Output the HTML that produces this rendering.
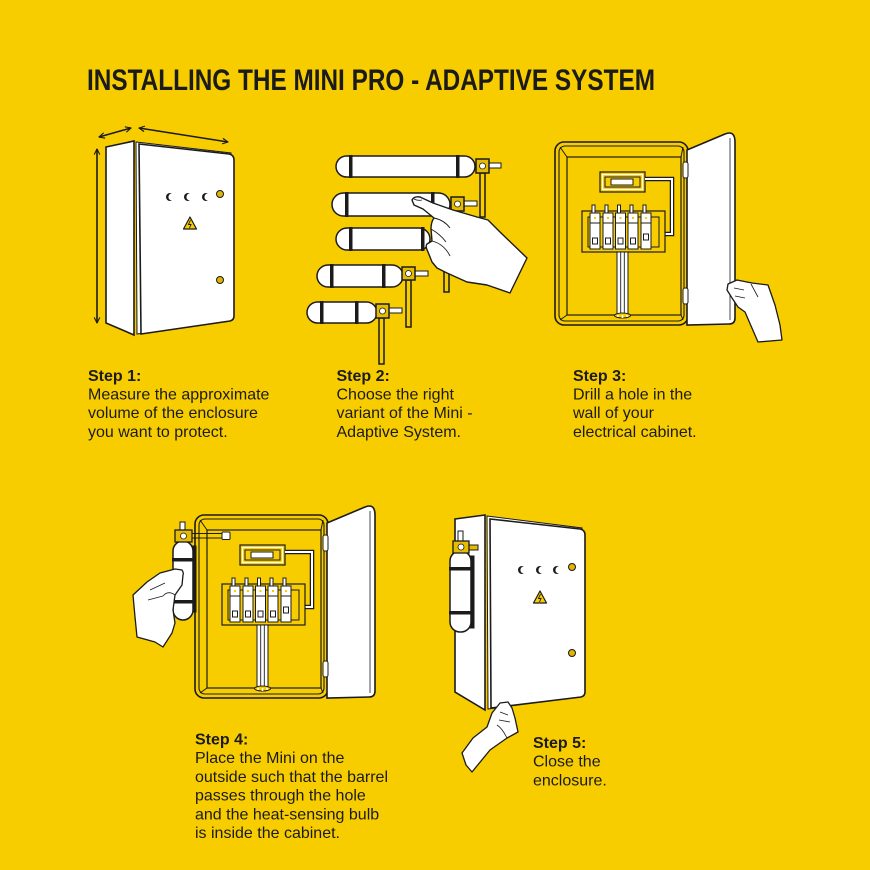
<!DOCTYPE html>
<html><head><meta charset="utf-8"><style>
html,body{margin:0;padding:0;background:#F8CD00;}
svg{display:block;}
text{font-family:"Liberation Sans",Arial,sans-serif;fill:#1b1b1b;}
</style></head><body>
<svg width="870" height="870" viewBox="0 0 870 870" xmlns="http://www.w3.org/2000/svg">
<defs>
<g id="cab">
  <rect x="0" y="0" width="133" height="183" rx="9" fill="#F8CD00" stroke="#1b1b1b" stroke-width="1.6"/>
  <rect x="4" y="4" width="125" height="175" rx="6" fill="none" stroke="#1b1b1b" stroke-width="1.1"/>
  <rect x="12" y="15" width="114" height="158" fill="none" stroke="#1b1b1b" stroke-width="1.2"/>
  <path d="M5,5 L12,15 M128,5 L126,15 M5,178 L12,173 M128,178 L126,173" stroke="#1b1b1b" stroke-width="1" fill="none"/>
  <rect x="45" y="30" width="45" height="20" fill="#F8CD00" stroke="#1b1b1b" stroke-width="1.2"/>
  <rect x="47.5" y="32.5" width="40" height="15" fill="none" stroke="#fff" stroke-width="1.2"/>
  <rect x="50" y="35" width="35" height="10" fill="none" stroke="#1b1b1b" stroke-width="1"/>
  <rect x="56" y="37" width="22" height="6" fill="#fff" stroke="#1b1b1b" stroke-width="1"/>
  <path d="M90,37 H117 V92 H110" fill="none" stroke="#1b1b1b" stroke-width="4.5"/>
  <path d="M90,37 H117 V92 H110" fill="none" stroke="#fff" stroke-width="2"/>
  <rect x="27" y="69" width="83" height="41" fill="#F8CD00" stroke="#1b1b1b" stroke-width="1.2"/>
  <rect x="33" y="75" width="71" height="30" fill="none" stroke="#1b1b1b" stroke-width="1"/>
  <g stroke="#1b1b1b" stroke-width="1">
    <rect x="37" y="63" width="3" height="8" fill="#fff"/><rect x="50" y="63" width="3" height="8" fill="#fff"/><rect x="62.5" y="63" width="3" height="8" fill="#fff"/><rect x="75" y="63" width="3" height="8" fill="#fff"/><rect x="88" y="63" width="3" height="8" fill="#fff"/>
    <rect x="35" y="71" width="10" height="36" fill="#fff"/><rect x="48" y="71" width="10" height="36" fill="#fff"/><rect x="60.5" y="71" width="10" height="36" fill="#fff"/><rect x="73" y="71" width="10" height="36" fill="#fff"/><rect x="86" y="71" width="10" height="36" fill="#fff"/>
    <path d="M35,81 h10 M48,81 h10 M60.5,81 h10 M73,81 h10 M86,81 h10" fill="none"/>
    <rect x="37.5" y="96" width="5" height="6" fill="none"/><rect x="50.5" y="96" width="5" height="6" fill="none"/><rect x="63" y="96" width="5" height="6" fill="none"/><rect x="75.5" y="96" width="5" height="6" fill="none"/><rect x="88.5" y="92" width="5" height="6" fill="none"/>
  </g>
  <g fill="#F8CD00"><rect x="39" y="75" width="2" height="2"/><rect x="52" y="75" width="2" height="2"/><rect x="64.5" y="75" width="2" height="2"/><rect x="77" y="75" width="2" height="2"/><rect x="90" y="75" width="2" height="2"/></g>
  <rect x="62" y="110" width="11" height="63" fill="#fff" stroke="#1b1b1b" stroke-width="1"/>
  <path d="M65.7,110 V173 M69.3,110 V173" stroke="#1b1b1b" stroke-width="0.9"/>
  <ellipse cx="67.5" cy="173.5" rx="8" ry="2.5" fill="#F8CD00" stroke="#1b1b1b" stroke-width="1"/>
  <path d="M63,173 V175 M67.5,173 V176 M72,173 V175" stroke="#fff" stroke-width="1.5"/>
  <path d="M132,8 L170,-8 Q180,-12 180,0 L180,176 Q180,182 174,182 L132,183 Z" fill="#fff" stroke="#1b1b1b" stroke-width="1.6"/>
  <path d="M175,-4 V178" stroke="#1b1b1b" stroke-width="0.8"/>
  <rect x="128" y="20" width="5" height="16" rx="2" fill="#fff" stroke="#1b1b1b" stroke-width="1"/>
  <rect x="128" y="146" width="5" height="16" rx="2" fill="#fff" stroke="#1b1b1b" stroke-width="1"/>
</g>
<marker id="ah" viewBox="0 0 10 10" refX="9" refY="5" markerWidth="7" markerHeight="7" orient="auto-start-reverse" markerUnits="userSpaceOnUse">
  <path d="M1,1 L9,5 L1,9" fill="none" stroke="#1b1b1b" stroke-width="1.6"/>
</marker>
</defs>

<text x="87" y="90" font-size="30" font-weight="bold" textLength="568" lengthAdjust="spacingAndGlyphs">INSTALLING THE MINI PRO - ADAPTIVE SYSTEM</text>

<!-- STEP 1 -->
<g stroke="#1b1b1b" stroke-width="1.6">
  <line x1="97" y1="149" x2="97" y2="323" marker-start="url(#ah)" marker-end="url(#ah)"/>
  <line x1="99" y1="137" x2="131" y2="128" marker-start="url(#ah)" marker-end="url(#ah)"/>
  <line x1="139" y1="128" x2="228" y2="142" marker-start="url(#ah)" marker-end="url(#ah)"/>
  <polygon points="106,147 134,141 134,335 106,323" fill="#fff"/>
  <polygon points="136,142 231,153 231,320 137,334" fill="#fff" stroke-width="1"/>
  <path d="M139,144 L229,154 Q234,155 234,160 L234,316 Q234,320 230,321 L141,334 Z" fill="#fff"/>
</g>
<g fill="#1b1b1b"><circle cx="170" cy="197" r="4"/><circle cx="188" cy="197" r="4"/><circle cx="206" cy="197" r="4"/></g>
<g fill="#fff"><circle cx="172" cy="197" r="3.6"/><circle cx="190" cy="197" r="3.6"/><circle cx="208" cy="197" r="3.6"/></g>
<circle cx="220" cy="194" r="3.5" fill="#E0B400" stroke="#1b1b1b" stroke-width="1"/>
<circle cx="220" cy="280" r="3.5" fill="#E0B400" stroke="#1b1b1b" stroke-width="1"/>
<polygon points="190,217 196.5,229 183.5,229" fill="#F8CD00" stroke="#1b1b1b" stroke-width="1.2" stroke-linejoin="round"/>
<path d="M190.5,220 L188.5,224.5 L191,224.5 L189.5,228" stroke="#1b1b1b" stroke-width="0.9" fill="none"/>

<!-- STEP 2 -->
<g stroke="#1b1b1b" stroke-width="1.5">
  <rect x="480" y="173" width="5" height="44" fill="#F8CD00"/>
  <rect x="444" y="250" width="5" height="42" fill="#F8CD00"/>
  <rect x="406" y="280" width="5" height="47" fill="#F8CD00"/>
  <rect x="379" y="318" width="5" height="46" fill="#F8CD00"/>
  <rect x="336" y="156" width="139" height="21" rx="10.5" fill="#fff"/>
  <rect x="332" y="193" width="118" height="23" rx="11.5" fill="#fff"/>
  <rect x="336" y="228" width="94" height="22" rx="11" fill="#fff"/>
  <rect x="317" y="265" width="86" height="22" rx="11" fill="#fff"/>
  <rect x="307" y="302" width="70" height="21" rx="10.5" fill="#fff"/>
  <rect x="489" y="163" width="12" height="5" fill="#fff" stroke-width="1"/>
  <rect x="464" y="201" width="13" height="5" fill="#fff" stroke-width="1"/>
  <rect x="415" y="271" width="13" height="5" fill="#fff" stroke-width="1"/>
  <rect x="389" y="308" width="13" height="5" fill="#fff" stroke-width="1"/>
  <rect x="476" y="159" width="13" height="14" fill="#E7BC00"/>
  <rect x="451" y="197" width="13" height="14" fill="#E7BC00"/>
  <rect x="402" y="267" width="13" height="13" fill="#E7BC00"/>
  <rect x="376" y="304" width="13" height="14" fill="#E7BC00"/>
</g>
<g fill="#1b1b1b">
  <rect x="349" y="155" width="3.5" height="23"/><rect x="456" y="155" width="3.5" height="23"/>
  <rect x="345" y="192" width="3.5" height="25"/><rect x="431" y="192" width="3.5" height="25"/>
  <rect x="349" y="227" width="3.5" height="24"/><rect x="421" y="227" width="3.5" height="24"/>
  <rect x="330" y="264" width="3.5" height="24"/><rect x="382" y="264" width="3.5" height="24"/>
  <rect x="320" y="301" width="3.5" height="23"/><rect x="355" y="301" width="3.5" height="23"/>
</g>
<g fill="#fff" stroke="#1b1b1b" stroke-width="0.8">
  <circle cx="482.5" cy="166" r="3"/><circle cx="457.5" cy="204" r="3"/><circle cx="408.5" cy="273.5" r="3"/><circle cx="382.5" cy="311" r="3"/>
</g>
<path d="M412,200 Q414,196 420,197 L433,203 L453,210 L477,217 L488,220 L500,232 L527,258 L510,293 L487,285 L467,282 L447,273 L437,268 L432,262 L428,252 Q425,246 427,244 L432,241 L431,229 Q431,222 434,218 L423,209 L414,205 Z" fill="#fff" stroke="#1b1b1b" stroke-width="1.4" stroke-linejoin="round"/>
<path d="M432,241 Q444,244 450,256 M434,218 Q444,220 450,228 M431,229 Q440,234 446,242 M414,199 Q418,201 422,200" fill="none" stroke="#1b1b1b" stroke-width="0.9"/>

<!-- STEP 3 -->
<use href="#cab" transform="translate(555,142)"/>
<path d="M728,284 L737,280 L752,283 L768,285 L775,305 L780,325 L782,340 L758,342 L745,312 L738,307 L732,298 L727,290 Z" fill="#fff" stroke="#1b1b1b" stroke-width="1.3" stroke-linejoin="round"/>
<path d="M734,288 L744,290 M735,296 L745,298 M751,284 L758,297" fill="none" stroke="#1b1b1b" stroke-width="0.8"/>

<!-- STEP 4 -->
<use href="#cab" transform="translate(195,515)"/>
<g stroke="#1b1b1b" stroke-width="1">
  <path d="M192,533.5 H224 M192,538 H224" fill="none"/>
  <rect x="222" y="532" width="8" height="7.5" rx="1" fill="#fff"/>
  <rect x="180" y="522" width="5" height="9" fill="#fff"/>
  <rect x="190" y="546" width="6" height="66" fill="#1b1b1b"/>
  <rect x="173" y="541" width="20" height="79" rx="10" fill="#fff" stroke-width="1.5"/>
  <rect x="175" y="530" width="17" height="12" fill="#E7BC00" stroke-width="1.3"/>
  <circle cx="183.5" cy="536" r="3" fill="#fff" stroke-width="0.8"/>
</g>
<rect x="172" y="558" width="23" height="3.5" fill="#1b1b1b"/>
<rect x="172" y="600" width="23" height="3.5" fill="#1b1b1b"/>
<path d="M133,595 L147,582 L160,573 L175,569 L182,570 Q184,573 183,575 L182,585 L175,595 L173,610 L175,623 L172,633 L163,647 L155,642 L137,637 L135,617 Z" fill="#fff" stroke="#1b1b1b" stroke-width="1.3" stroke-linejoin="round"/>
<path d="M150,590 L165,583 M148,600 L163,596 M175,595 Q168,590 163,596" fill="none" stroke="#1b1b1b" stroke-width="0.8"/>

<!-- STEP 5 -->
<g stroke="#1b1b1b" stroke-width="1.6">
  <polygon points="455,519 485,515 485,710 455,692" fill="#fff"/>
  <polygon points="487,516 582,528 582,696 488,709" fill="#fff" stroke-width="1"/>
  <path d="M490,519 L580,529 Q585,530 585,535 L585,692 Q585,696 581,697 L491,708 Z" fill="#fff"/>
</g>
<g fill="#1b1b1b"><circle cx="522" cy="570" r="4"/><circle cx="540" cy="570" r="4"/><circle cx="557" cy="570" r="4"/></g>
<g fill="#fff"><circle cx="524" cy="570" r="3.6"/><circle cx="542" cy="570" r="3.6"/><circle cx="559" cy="570" r="3.6"/></g>
<circle cx="572" cy="567" r="3.5" fill="#E0B400" stroke="#1b1b1b" stroke-width="1"/>
<circle cx="572" cy="653" r="3.5" fill="#E0B400" stroke="#1b1b1b" stroke-width="1"/>
<polygon points="540,591 546.5,603 533.5,603" fill="#F8CD00" stroke="#1b1b1b" stroke-width="1.2" stroke-linejoin="round"/>
<path d="M540.5,594 L538.5,598.5 L541,598.5 L539.5,602" stroke="#1b1b1b" stroke-width="0.9" fill="none"/>
<g stroke="#1b1b1b" stroke-width="1">
  <rect x="466" y="545" width="12" height="5" fill="#E7BC00"/>
  <rect x="458" y="531" width="5" height="10" fill="#fff"/>
  <rect x="468" y="556" width="6" height="72" fill="#1b1b1b"/>
  <rect x="450" y="551" width="21" height="81" rx="10" fill="#fff" stroke-width="1.5"/>
  <rect x="453" y="541" width="16" height="12" fill="#E7BC00" stroke-width="1.3"/>
  <circle cx="461" cy="547" r="3" fill="#fff" stroke-width="0.8"/>
</g>
<rect x="449" y="567" width="24" height="3.5" fill="#1b1b1b"/>
<rect x="449" y="611" width="24" height="3.5" fill="#1b1b1b"/>
<path d="M462,753 L473,738 L487,727 L492,713 L500,703 L508,702 L512,708 L515,718 L518,732 L507,738 L490,750 L472,772 L466,765 Z" fill="#fff" stroke="#1b1b1b" stroke-width="1.3" stroke-linejoin="round"/>
<path d="M500,712 L508,715 M499,720 L510,722 M507,738 Q502,728 497,725" fill="none" stroke="#1b1b1b" stroke-width="0.8"/>

<!-- TEXT -->
<g font-size="16">
  <text x="88" y="381" font-weight="bold">Step 1:</text>
  <text x="88" y="399.6">Measure the approximate</text>
  <text x="88" y="418.2">volume of the enclosure</text>
  <text x="88" y="436.8">you want to protect.</text>

  <text x="336.5" y="381" font-weight="bold">Step 2:</text>
  <text x="336.5" y="399.6">Choose the right</text>
  <text x="336.5" y="418.2">variant of the Mini -</text>
  <text x="336.5" y="436.8">Adaptive System.</text>

  <text x="573" y="381" font-weight="bold">Step 3:</text>
  <text x="573" y="399.6">Drill a hole in the</text>
  <text x="573" y="418.2">wall of your</text>
  <text x="573" y="436.8">electrical cabinet.</text>

  <text x="195" y="744.5" font-weight="bold">Step 4:</text>
  <text x="195" y="763.2">Place the Mini on the</text>
  <text x="195" y="781.9">outside such that the barrel</text>
  <text x="195" y="800.6">passes through the hole</text>
  <text x="195" y="819.3">and the heat-sensing bulb</text>
  <text x="195" y="838">is inside the cabinet.</text>

  <text x="533" y="748" font-weight="bold">Step 5:</text>
  <text x="533" y="766.7">Close the</text>
  <text x="533" y="785.4">enclosure.</text>
</g>
</svg>
</body></html>
